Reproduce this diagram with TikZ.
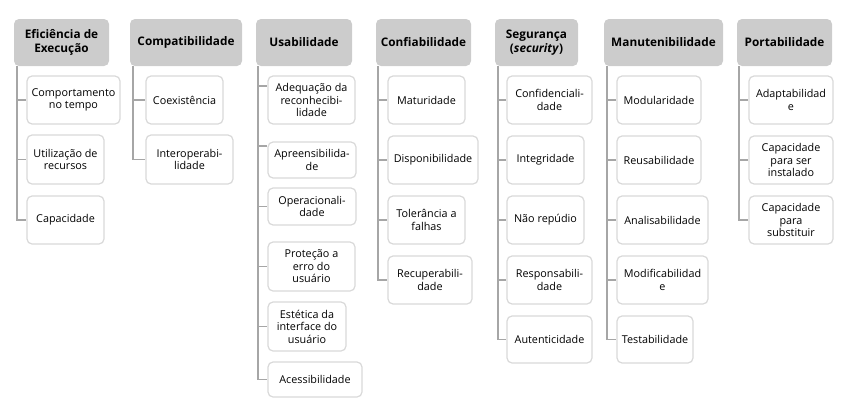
\documentclass[tikz,border=0pt]{standalone}
\usepackage{fontspec}
\setmainfont{Open Sans}
\definecolor{headgray}{HTML}{CCCCCC}
\definecolor{boxgray}{HTML}{D9D9D9}
\definecolor{linegray}{HTML}{A6A6A6}
\tikzset{
  cat/.style={fill=headgray, rounded corners=5pt, minimum height=47pt, inner sep=1pt,
    align=center, font=\bfseries\fontsize{11.8}{13.5}\selectfont},
  sub/.style={draw=boxgray, line width=1.2pt, fill=white, rounded corners=5pt, minimum height=48pt,
    inner sep=1pt, align=center, font=\fontsize{10.8}{12.5}\selectfont},
  spine/.style={draw=linegray, line width=1.6pt}
}

\begin{document}
\begin{tikzpicture}[x=1pt, y=-1pt]
\useasboundingbox (0,0) rectangle (851,407);
% categorias
\node[cat, minimum width=95pt] (h1) at (61.5,42.5) {Eficiência de\\Execução};
\node[cat, minimum width=112pt] (h2) at (186,42.5) {Compatibilidade};
\node[cat, minimum width=96pt] (h3) at (304,42.5) {Usabilidade};
\node[cat, minimum width=95pt] (h4) at (423.5,42.5) {Confiabilidade};
\node[cat, minimum width=83pt] (h5) at (536.5,42.5) {Segurança\\(\textit{security})};
\node[cat, minimum width=119pt] (h6) at (663.5,42.5) {Manutenibilidade};
\node[cat, minimum width=95pt] (h7) at (784.5,42.5) {Portabilidade};
\coordinate (s1) at (17,66);
\coordinate (s2) at (133,66);
\coordinate (s3) at (258,66);
\coordinate (s4) at (378,66);
\coordinate (s5) at (498,66);
\coordinate (s6) at (607,66);
\coordinate (s7) at (739,66);
% eficiencia
\node[sub, minimum width=93pt] (c11) at (73.5,100) {Comportamento\\no tempo};
\node[sub, minimum width=77pt, minimum height=49pt] (c12) at (65.5,159.5) {Utilização de\\recursos};
\node[sub, minimum width=77pt] (c13) at (65.5,220) {Capacidade};
% compatibilidade
\node[sub, minimum width=77pt] (c21) at (184.5,100) {Coexistência};
\node[sub, minimum width=87pt, minimum height=49pt] (c22) at (189.5,159.5) {Interoperabi-\\lidade};
% usabilidade
\node[sub, minimum width=87pt] (c31) at (311.5,100) {Adequação da\\reconhecibi-\\lidade};
\node[sub, minimum width=88pt, minimum height=36pt] (c32) at (312,160) {Apreensibilida-\\de};
\node[sub, minimum width=88pt, minimum height=37pt] (c33) at (312,206.5) {Operacionali-\\dade};
\node[sub, minimum width=87pt, minimum height=49pt] (c34) at (311.5,266.5) {Proteção a\\erro do\\usuário};
\node[sub, minimum width=78pt, minimum height=49pt] (c35) at (307,326.5) {Estética da\\interface do\\usuário};
\node[sub, minimum width=94pt, minimum height=35pt] (c36) at (315,379.5) {Acessibilidade};
% confiabilidade
\node[sub, minimum width=77pt] (c41) at (426.5,100) {Maturidade};
\node[sub, minimum width=90pt] (c42) at (433,160) {Disponibilidade};
\node[sub, minimum width=77pt] (c43) at (426.5,220) {Tolerância a\\falhas};
\node[sub, minimum width=84pt] (c44) at (430,280) {Recuperabili-\\dade};
% seguranca
\node[sub, minimum width=85pt] (c51) at (549.5,100) {Confidenciali-\\dade};
\node[sub, minimum width=77pt] (c52) at (545.5,160) {Integridade};
\node[sub, minimum width=77pt] (c53) at (545.5,220) {Não repúdio};
\node[sub, minimum width=85pt] (c54) at (549.5,280) {Responsabili-\\dade};
\node[sub, minimum width=85pt, minimum height=47pt] (c55) at (549.5,339.5) {Autenticidade};
% manutenibilidade
\node[sub, minimum width=84pt] (c61) at (659,100) {Modularidade};
\node[sub, minimum width=84pt] (c62) at (659,160) {Reusabilidade};
\node[sub, minimum width=91pt] (c63) at (662.5,220) {Analisabilidade};
\node[sub, minimum width=91pt] (c64) at (662.5,280) {Modificabilidad\\e};
\node[sub, minimum width=76pt, minimum height=47pt] (c65) at (655,339.5) {Testabilidade};
% portabilidade
\node[sub, minimum width=84pt] (c71) at (791,100) {Adaptabilidad\\e};
\node[sub, minimum width=84pt] (c72) at (791,160) {Capacidade\\para ser\\instalado};
\node[sub, minimum width=84pt] (c73) at (791,220) {Capacidade\\para\\substituir};
% ligacoes
\draw[spine] (s1) |- (c13.west) (s1 |- c11.west) -- (c11.west) (s1 |- c12.west) -- (c12.west);
\draw[spine] (s2) |- (c22.west) (s2 |- c21.west) -- (c21.west);
\draw[spine] (s3) |- (c36.west) (s3 |- c31.west) ++(0,-14) -- ([yshift=14pt]c31.west)
  (s3 |- c32.west) ++(0,-14) -- ([yshift=14pt]c32.west) (s3 |- c33.west) -- (c33.west)
  (s3 |- c34.west) -- (c34.west) (s3 |- c35.west) -- (c35.west);
\draw[spine] (s4) |- (c44.west) (s4 |- c41.west) -- (c41.west) (s4 |- c42.west) -- (c42.west)
  (s4 |- c43.west) -- (c43.west);
\draw[spine] (s5) |- (c55.west) (s5 |- c51.west) -- (c51.west) (s5 |- c52.west) -- (c52.west)
  (s5 |- c53.west) -- (c53.west) (s5 |- c54.west) -- (c54.west);
\draw[spine] (s6) |- (c65.west) (s6 |- c61.west) -- (c61.west) (s6 |- c62.west) -- (c62.west)
  (s6 |- c63.west) -- (c63.west) (s6 |- c64.west) -- (c64.west);
\draw[spine] (s7) |- (c73.west) (s7 |- c71.west) -- (c71.west) (s7 |- c72.west) -- (c72.west);
\end{tikzpicture}
\end{document}
